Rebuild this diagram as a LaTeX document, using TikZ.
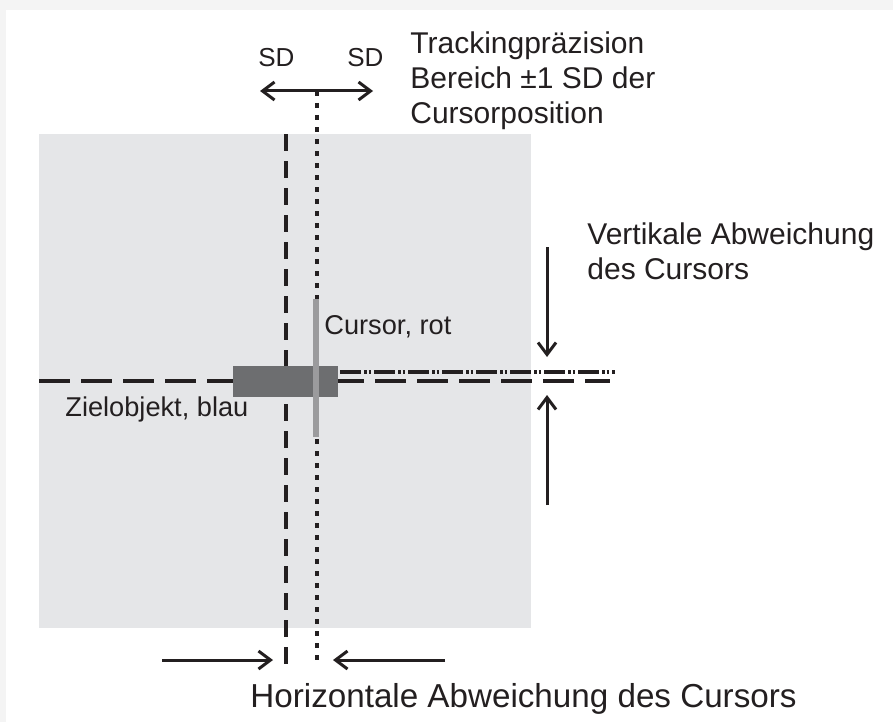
\documentclass[tikz,border=0pt]{standalone}
\usepackage{fontspec}
\setmainfont{Liberation Sans}
\usetikzlibrary{arrows.meta}
\definecolor{ink}{RGB}{35,31,32}
\definecolor{field}{RGB}{229,230,232}
\definecolor{targetgrey}{RGB}{109,110,112}
\definecolor{cursorgrey}{RGB}{155,155,157}
\tikzset{
  bigtext/.style={text=ink,inner sep=0pt,align=left,font=\fontsize{15pt}{17.5pt}\selectfont},
  smalltext/.style={text=ink,inner sep=0pt,font=\fontsize{13.6pt}{15pt}\selectfont},
  sdline/.style={ink,line width=1.6pt,dash pattern=on 8.5pt off 5pt},
  meanline/.style={ink,line width=1.6pt,dash pattern=on 2.5pt off 3.5pt},
  targetline/.style={ink,line width=1.6pt,dash pattern=on 15.5pt off 5.5pt},
  cursorline/.style={ink,line width=1.6pt,dash pattern=on 10.5pt off 1.5pt on 1.3pt off 1pt on 1.3pt off 1.4pt},
  arr/.style={ink,line width=1.5pt,-{Straight Barb[length=6pt,width=9pt]}}
}
\begin{document}
\begin{tikzpicture}[x=0.5pt,y=-0.5pt]
  \useasboundingbox (0,0) rectangle (893,722);
  % paper with a faint shadow on top and left
  \fill[gray!9] (0,0) rectangle (893,722);
  \fill[white] (6,10) rectangle (893,722);
  % tracking field
  \fill[field] (39,134) rectangle (531,628);
  % horizontal lines: target position and cursor position
  \draw[targetline] (39,381) -- (610,381);
  \draw[cursorline] (340,372) -- (615,372);
  % vertical lines: -1 SD and mean
  \draw[sdline] (286,134) -- (286,665);
  \draw[meanline] (317,91) -- (317,665);
  % target and cursor
  \fill[targetgrey] (233,366) rectangle (338,397);
  \fill[cursorgrey] (313,299) rectangle (319,437);
  % arrow ends
  \coordinate (sdL) at (260,91);
  \coordinate (sdR) at (373,91);
  \coordinate (vtopS) at (547,247);
  \coordinate (vtopE) at (547,357);
  \coordinate (vbotS) at (547,505);
  \coordinate (vbotE) at (547,395);
  \coordinate (hleftS) at (162,660);
  \coordinate (hleftE) at (273,660);
  \coordinate (hrightS) at (445,660);
  \coordinate (hrightE) at (333,660);
  \draw[arr,{Straight Barb[length=6pt,width=9pt]}-{Straight Barb[length=6pt,width=9pt]}] (sdL) -- (sdR);
  \draw[arr] (vtopS) -- (vtopE);
  \draw[arr] (vbotS) -- (vbotE);
  \draw[arr] (hleftS) -- (hleftE);
  \draw[arr] (hrightS) -- (hrightE);
  % labels
  \node[smalltext,anchor=base west,font=\fontsize{13pt}{15pt}\selectfont] (sdleft) at (258,67) {SD};
  \node[smalltext,anchor=base west,font=\fontsize{13pt}{15pt}\selectfont] (sdright) at (347,67) {SD};
  \node[bigtext,anchor=west] (precision) at (410,81) {Trackingpräzision\\Bereich ±1 SD der\\Cursorposition};
  \node[bigtext,anchor=west] (vertical) at (587,251) {Vertikale Abweichung\\des Cursors};
  \node[smalltext,anchor=base west] (cursor) at (324,334) {Cursor, rot};
  \node[smalltext,anchor=base west] (target) at (65,416) {Zielobjekt, blau};
  \node[bigtext,anchor=base west,font=\fontsize{16.6pt}{19pt}\selectfont] (horizontal) at (250,707) {Horizontale Abweichung des Cursors};
\end{tikzpicture}
\end{document}
